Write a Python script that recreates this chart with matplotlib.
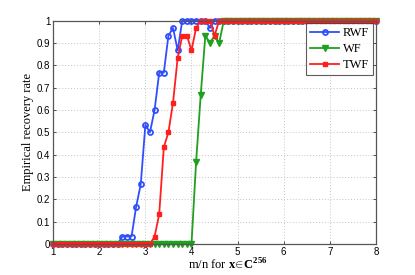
import numpy as np
import matplotlib
matplotlib.use('Agg')
from matplotlib import pyplot as plt

plt.rcParams['font.family'] = ['Liberation Sans', 'DejaVu Sans']
plt.rcParams['mathtext.fontset'] = 'custom'
plt.rcParams['mathtext.rm'] = 'Liberation Serif'
plt.rcParams['mathtext.bf'] = 'Liberation Serif:bold'

# m/n grid, step 0.1
x = np.round(np.arange(1.0, 8.01, 0.1), 1)

# nonzero parts of each curve (value at given m/n), rest is 0 before / 1 after
rwf_x = [2.5, 2.6, 2.7, 2.8, 2.9, 3.0, 3.1, 3.2, 3.3, 3.4, 3.5, 3.6, 3.7, 3.8, 3.9, 4.0, 4.1, 4.2, 4.3, 4.4]
rwf_v = [0.033, 0.033, 0.033, 0.167, 0.267, 0.533, 0.5, 0.6, 0.767, 0.767, 0.933, 0.967, 0.867, 1, 1, 1, 1, 1, 1, 0.967]
wf_x = [4.1, 4.2, 4.3, 4.4, 4.5, 4.6]
wf_v = [0.367, 0.667, 0.933, 0.9, 0.933, 0.9]
twf_x = [3.2, 3.3, 3.4, 3.5, 3.6, 3.7, 3.8, 3.9, 4.0, 4.1, 4.2, 4.3, 4.4, 4.5]
twf_v = [0.033, 0.133, 0.433, 0.5, 0.633, 0.833, 0.933, 0.933, 0.867, 0.967, 1, 1, 1, 0.933]


def build(px, pv):
    y = np.where(x < px[0], 0.0, 1.0)
    for a, b in zip(px, pv):
        y[np.isclose(x, a)] = b
    return y


rwf = build(rwf_x, rwf_v)
wf = build(wf_x, wf_v)
twf = build(twf_x, twf_v)

fig = plt.figure(figsize=(4.15, 2.75), dpi=100)
ax = fig.add_axes([0.128, 0.113, 0.778, 0.812])

ax.plot(x, rwf, '-o', color='#2f4fff', lw=1.3, ms=3.6, mfc='none', mew=1.3, label='RWF', clip_on=False)
ax.plot(x, wf, '-v', color='#1fa01f', lw=1.3, ms=3.8, mfc='#1fa01f', mew=1.0, label='WF', clip_on=False)
ax.plot(x, twf, '-s', color='#ff1f1f', lw=1.3, ms=3.2, mfc='#ff1f1f', mew=1.0, label='TWF', clip_on=False)

ax.set_xlim(1, 8)
ax.set_ylim(0, 1)
ax.set_xticks(range(1, 9))
ax.set_yticks(np.round(np.arange(0, 1.01, 0.1), 1))
ax.set_yticklabels(['0'] + ['%.1f' % v for v in np.arange(0.1, 0.95, 0.1)] + ['1'])
ax.tick_params(direction='in', labelsize=7, length=2.5, width=0.6, pad=2, top=True, right=True,
               colors='#333333', labelcolor='black')
ax.grid(True, linestyle=(0, (1, 2)), color='#c4c4c4', lw=0.7)
for s in ax.spines.values():
    s.set_color('#555555')
    s.set_linewidth(0.9)

ax.set_xlabel(r'm/n for $\mathbf{x}\!\in\!\mathbf{C}^{\mathbf{256}}$', family='Liberation Serif', fontsize=9, labelpad=1)
ax.xaxis.set_label_coords(0.54, -0.06)
ax.set_ylabel('Empirical recovery rate', family='Liberation Serif', fontsize=9, labelpad=2)

leg = ax.legend(loc='upper right', prop={'family': 'Liberation Serif', 'size': 9},
                fancybox=False, edgecolor='#333333', borderaxespad=0.2, handlelength=2.3,
                labelspacing=0.3, borderpad=0.35, handletextpad=0.3)
leg.get_frame().set_linewidth(0.8)

fig.savefig('out.png', dpi=100)
